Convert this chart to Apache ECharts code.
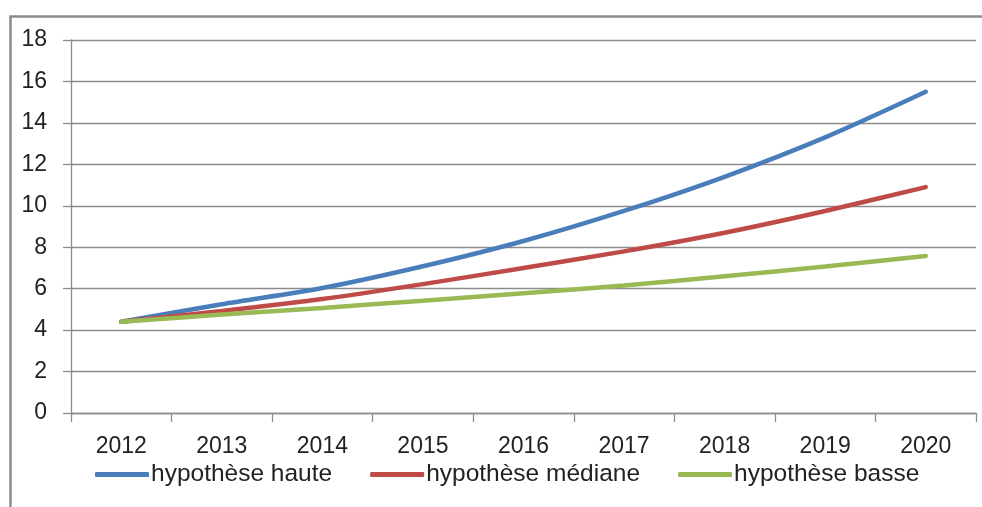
<!DOCTYPE html>
<html>
<head>
<meta charset="utf-8">
<script src="https://cdn.jsdelivr.net/npm/echarts@6/dist/echarts.min.js"></script>
<style>
html,body{margin:0;padding:0;background:#fff;}
#chart{width:982px;height:507px;}
</style>
</head>
<body>
<div id="chart"></div>
<script>
var categories = ['2012','2013','2014','2015','2016','2017','2018','2019','2020'];
var seriesNames = ['hypothèse haute','hypothèse médiane','hypothèse basse'];
var haute = [4.4, 5.25, 6.03, 7.08, 8.3, 9.75, 11.4, 13.3, 15.5];
var mediane = [4.4, 4.92, 5.5, 6.22, 7.0, 7.8, 8.7, 9.75, 10.9];
var basse = [4.4, 4.75, 5.07, 5.42, 5.78, 6.15, 6.6, 7.07, 7.58];
var colors = ['#4A7EBB', '#BE4B48', '#98B954'];

var font = 'Liberation Sans, Arial, sans-serif';
var chart = echarts.init(document.getElementById('chart'), null, {renderer: 'canvas'});
function mk(name, data, color) {
  return {
    name: name, type: 'line', data: data, smooth: 0.3,
    symbol: 'none', showSymbol: false,
    lineStyle: {color: color, width: 4.5, cap: 'round'},
    itemStyle: {color: color}
  };
}
chart.setOption({
  animation: false,
  backgroundColor: '#fff',
  graphic: [{
    type: 'rect', left: 8, top: 14,
    shape: {width: 1000, height: 600},
    style: {fill: 'none', stroke: '#8c8c8c', lineWidth: 2.5},
    silent: true
  }],
  grid: {left: 71, right: 6, top: 40, bottom: 94, containLabel: false},
  legend: {
    bottom: 20, left: 95, padding: 0,
    itemWidth: 54, itemHeight: 5, itemGap: 38,
    icon: 'roundRect',
    textStyle: {fontFamily: font, fontSize: 24.5, color: '#222', padding: [0,0,0,-3]},
    data: seriesNames
  },
  xAxis: {
    type: 'category', data: categories, boundaryGap: true,
    axisLine: {lineStyle: {color: '#8c8c8c', width: 1.3}},
    axisTick: {show: true, length: 9, inside: false, lineStyle: {color: '#8c8c8c', width: 1.3}},
    axisLabel: {fontFamily: font, fontSize: 23, color: '#222', margin: 22},
    splitLine: {show: false}
  },
  yAxis: {
    type: 'value', min: 0, max: 18, interval: 2,
    axisLine: {show: true, lineStyle: {color: '#8c8c8c', width: 1.3}},
    axisTick: {show: true, length: 8, lineStyle: {color: '#8c8c8c', width: 1.3}},
    axisLabel: {fontFamily: font, fontSize: 23, color: '#222', margin: 24},
    splitLine: {show: true, lineStyle: {color: '#8c8c8c', width: 1.3}}
  },
  series: [mk(seriesNames[0], haute, colors[0]), mk(seriesNames[1], mediane, colors[1]), mk(seriesNames[2], basse, colors[2])]
});
</script>
</body>
</html>
